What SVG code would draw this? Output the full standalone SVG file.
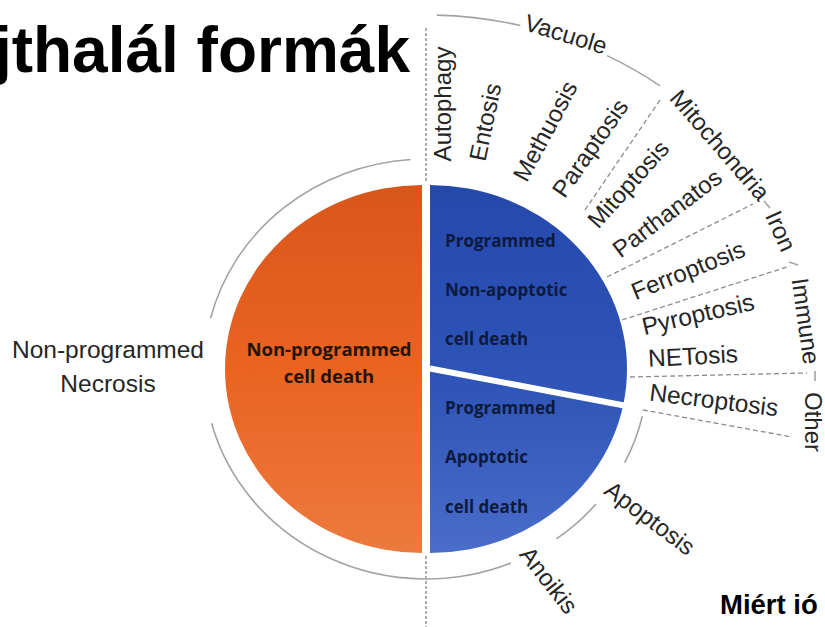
<svg xmlns="http://www.w3.org/2000/svg" width="825" height="627" viewBox="0 0 825 627">
<defs>
<linearGradient id="gOrange" x1="0" y1="0" x2="0" y2="1">
<stop offset="0" stop-color="#d9561a"/>
<stop offset="0.5" stop-color="#ea6321"/>
<stop offset="1" stop-color="#ec7a3e"/>
</linearGradient>
<linearGradient id="gBlue" x1="0" y1="0" x2="0" y2="1">
<stop offset="0" stop-color="#2548ab"/>
<stop offset="0.55" stop-color="#2f55b8"/>
<stop offset="1" stop-color="#4a6dc9"/>
</linearGradient>
<style>
.lbl{font-family:"Liberation Sans",Arial,sans-serif;font-size:24px;fill:#262626;text-anchor:middle;dominant-baseline:central}
.pie{font-family:"Open Sans","Liberation Sans",sans-serif;font-weight:700;font-size:17px}
.ring{fill:none;stroke:#a3a3a3;stroke-width:1.6}
.dash{fill:none;stroke:#8c8c8c;stroke-width:1.3;stroke-dasharray:5 3}
.vdash{fill:none;stroke:#9a9a9a;stroke-width:1.6;stroke-dasharray:3 2}
</style>
</defs>
<rect width="825" height="627" fill="#ffffff"/>

<g id="title">
<text x="410" y="72" text-anchor="end" font-family="Liberation Sans,Arial,sans-serif" font-weight="700" font-size="64" fill="#000">jthalál formák</text>
</g>

<g id="connectors">
<line class="vdash" x1="426" y1="28" x2="426" y2="182"/>
<line class="vdash" x1="426" y1="556" x2="426" y2="627"/>
<path class="ring" d="M 410.5 159.5 A 222 210 0 0 0 210.6 318.2"/>
<path class="ring" d="M 211.6 423.3 A 222 210 0 0 0 511 563"/>
<path class="ring" d="M 556.5 538.9 A 222 210 0 0 0 596 504"/>
<path class="ring" d="M 624.7 462.7 A 222 210 0 0 0 642.3 416.2"/>
<path class="ring" d="M 436.9 15.1 A 390 354 0 0 1 520.3 25.5"/>
<path class="ring" d="M 607 55.6 A 390 354 0 0 1 660 85.8"/>
<line class="ring" x1="764" y1="201" x2="770" y2="208"/>
<line class="ring" x1="789" y1="262" x2="798" y2="265"/>
<line class="ring" x1="815" y1="371" x2="815" y2="381"/>
<line class="dash" x1="585" y1="210" x2="660" y2="100"/>
<line class="dash" x1="607" y1="277" x2="753" y2="204"/>
<line class="dash" x1="622" y1="320" x2="790" y2="266"/>
<line class="dash" x1="630" y1="377" x2="807" y2="373"/>
<line class="dash" x1="627" y1="407" x2="792" y2="437"/>
</g>

<g id="non-programmed-slice">
<path d="M 422 185 A 197 184 0 0 0 422 553 Z" fill="url(#gOrange)"/>
<text class="pie" x="329" y="356" text-anchor="middle" fill="#24140a" style="font-size:18.5px">Non-programmed</text>
<text class="pie" x="329" y="383" text-anchor="middle" fill="#24140a" style="font-size:18.5px">cell death</text>
</g>

<g id="programmed-slices">
<path d="M 430 185 A 197 184 0 0 1 430 553 Z" fill="url(#gBlue)"/>
<line x1="430" y1="368.5" x2="640" y2="408.5" stroke="#ffffff" stroke-width="6"/>
</g>

<g id="non-apoptotic-slice">
<text class="pie" x="445" y="247" fill="#0d1a3e">Programmed</text>
<text class="pie" x="445" y="296" fill="#0d1a3e">Non-apoptotic</text>
<text class="pie" x="445" y="345" fill="#0d1a3e">cell death</text>
</g>

<g id="apoptotic-slice">
<text class="pie" x="445" y="414" fill="#0d1a3e">Programmed</text>
<text class="pie" x="445" y="463" fill="#0d1a3e">Apoptotic</text>
<text class="pie" x="445" y="513" fill="#0d1a3e">cell death</text>
</g>

<g id="necrosis-label">
<text x="108" y="358" text-anchor="middle" font-family="Liberation Sans,Arial,sans-serif" font-size="24.5" fill="#262626">Non-programmed</text>
<text x="108" y="392" text-anchor="middle" font-family="Liberation Sans,Arial,sans-serif" font-size="24.5" fill="#262626">Necrosis</text>
</g>

<g id="autophagy"><text class="lbl" transform="translate(442,104) rotate(-90)">Autophagy</text></g>
<g id="entosis"><text class="lbl" transform="translate(485,122) rotate(-78)">Entosis</text></g>
<g id="methuosis"><text class="lbl" transform="translate(545,131) rotate(-62)">Methuosis</text></g>
<g id="paraptosis"><text class="lbl" transform="translate(590,148) rotate(-55)">Paraptosis</text></g>
<g id="mitoptosis"><text class="lbl" transform="translate(628,184) rotate(-48)">Mitoptosis</text></g>
<g id="parthanatos"><text class="lbl" transform="translate(667,213) rotate(-37)">Parthanatos</text></g>
<g id="ferroptosis"><text class="lbl" transform="translate(688,270) rotate(-22)">Ferroptosis</text></g>
<g id="pyroptosis"><text class="lbl" transform="translate(698,314) rotate(-13)" style="font-size:24.5px">Pyroptosis</text></g>
<g id="netosis"><text class="lbl" transform="translate(693,356) rotate(-3)" style="font-size:24.5px">NETosis</text></g>
<g id="necroptosis"><text class="lbl" transform="translate(714,400) rotate(7)" style="font-size:24.5px">Necroptosis</text></g>
<g id="apoptosis"><text class="lbl" transform="translate(650,518) rotate(37)">Apoptosis</text></g>
<g id="anoikis"><text class="lbl" transform="translate(549,580) rotate(52)">Anoikis</text></g>
<g id="vacuole"><text class="lbl" transform="translate(566,34) rotate(17)">Vacuole</text></g>
<g id="mitochondria"><text class="lbl" transform="translate(720,145) rotate(49)">Mitochondria</text></g>
<g id="iron"><text class="lbl" transform="translate(781,231) rotate(66)">Iron</text></g>
<g id="immune"><text class="lbl" transform="translate(806,321) rotate(82)">Immune</text></g>
<g id="other"><text class="lbl" transform="translate(813,422) rotate(90)">Other</text></g>

<g id="footer">
<text x="720" y="614" font-family="Liberation Sans,Arial,sans-serif" font-weight="700" font-size="27.5" fill="#000">Miért ió</text>
</g>
</svg>
